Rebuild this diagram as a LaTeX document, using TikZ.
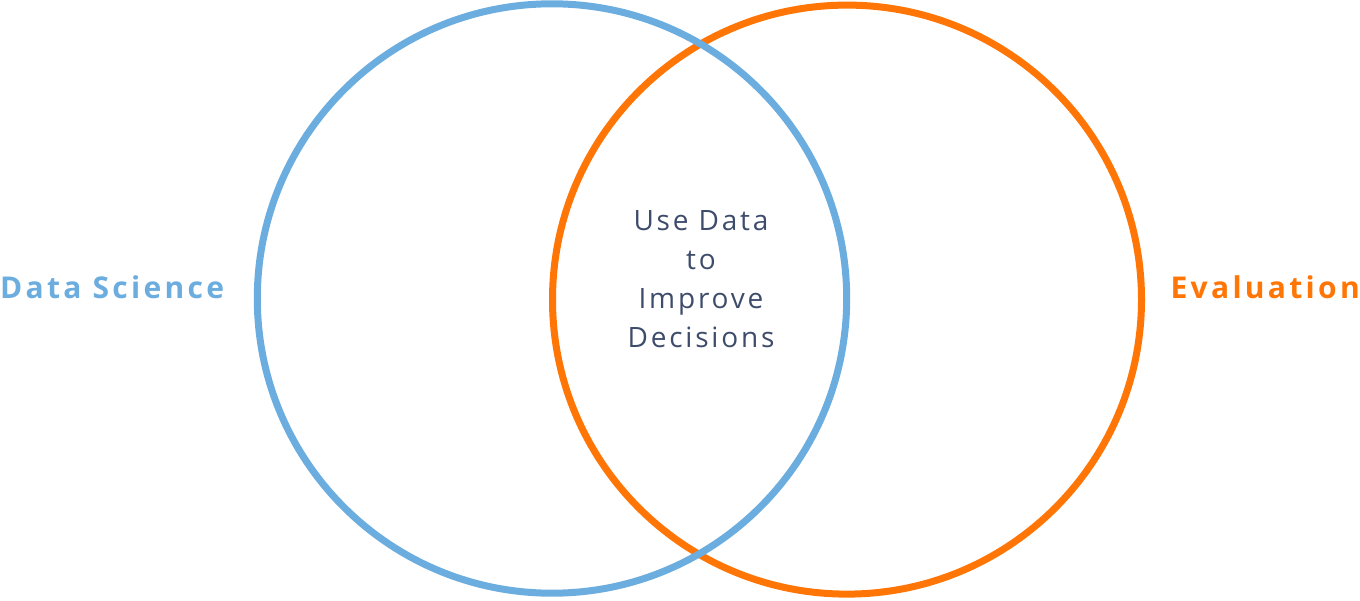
\documentclass[tikz,border=0pt]{standalone}
\usepackage{fontspec}
\setmainfont{Open Sans}
\definecolor{dsblue}{HTML}{6CADDF}
\definecolor{evorange}{HTML}{FF7506}
\definecolor{midtext}{HTML}{3E4C6B}
\begin{document}
\begin{tikzpicture}[x=1pt,y=-1pt,
  ring/.style={line width=7pt},
  sidelabel/.style={font=\fontsize{30}{34}\selectfont\bfseries\addfontfeature{LetterSpace=11}, inner sep=0pt},
  midlabel/.style={font=\fontsize{28}{39}\selectfont\addfontfeature{LetterSpace=10}, text=midtext, align=center, inner sep=0pt}]
\useasboundingbox (0,0) rectangle (1360,600);
\draw[ring, evorange] (847,299.6) circle[radius=294.5];
\draw[ring, dsblue] (552,298.5) circle[radius=294.7];
\node[sidelabel, text=dsblue, anchor=base west] (ds) at (0,298) {Data Science};
\node[sidelabel, text=evorange, anchor=base east] (ev) at (1360,298) {Evaluation};
\node[midlabel, anchor=base] (mid) at (701,347) {Use Data\\to\\Improve\\Decisions};
\end{tikzpicture}
\end{document}
